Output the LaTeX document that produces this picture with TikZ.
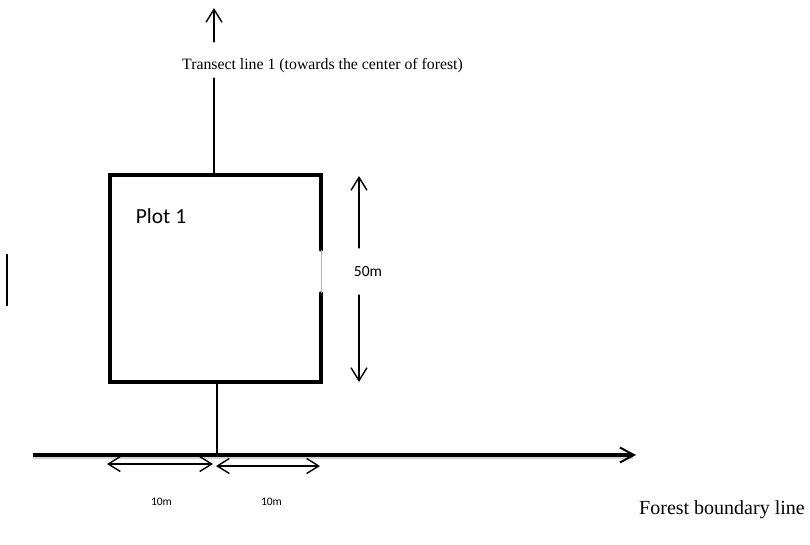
\documentclass[tikz,border=0pt]{standalone}
\usepackage{fontspec}
\setmainfont{Liberation Serif}
\newfontfamily\calibri{Carlito}
\usetikzlibrary{arrows.meta}
\begin{document}
\begin{tikzpicture}[x=1pt,y=-1pt,
  thinline/.style={line width=1.3pt, line cap=round},
  barbtip/.style={-{Straight Barb[length=13pt,width=16pt,line width=1.4pt]}},
  dbarb/.style={{Straight Barb[length=12pt,width=15pt,line width=1.4pt]}-{Straight Barb[length=12pt,width=15pt,line width=1.4pt]}},
  lbl/.style={inner sep=0pt, anchor=center}]
\useasboundingbox (0,0) rectangle (810,545);

% coordinates
\coordinate (tTop) at (214,8);
\coordinate (tA) at (214,42);
\coordinate (tB) at (214,78);
\coordinate (tC) at (214,175);
\coordinate (tD) at (217,382);
\coordinate (tE) at (217,455);

% plot rectangle with gap on right side
\draw[line width=3.3pt, line cap=round, line join=miter] (321,293) -- (321,382) -- (110,382) -- (110,175) -- (321,175) -- (321,250);
\draw[gray!60, line width=0.8pt] (321,250) -- (321,293);

% transect line
\draw[thinline, barbtip] (tA) -- (tTop);
\draw[thinline] (tB) -- (tC);
\draw[thinline] (tD) -- (tE);
\node[lbl, font=\fontsize{15.8}{18}\selectfont] (tlabel) at (322.5,65.5) {Transect line 1 (towards the center of forest)};

% plot label
\node[lbl, font=\calibri\fontsize{21.5}{24}\selectfont] (plot) at (161,216) {Plot 1};

% 50 m dimension
\coordinate (dTop) at (359,176);
\coordinate (dA) at (359,248);
\coordinate (dB) at (359,295);
\coordinate (dBot) at (359,382);
\draw[thinline, barbtip] (dA) -- (dTop);
\draw[thinline, barbtip] (dB) -- (dBot);
\node[lbl, font=\calibri\fontsize{15.5}{18}\selectfont] (fifty) at (368,272) {50m};

% forest boundary line
\coordinate (bStart) at (33,455);
\coordinate (bEnd) at (636,455);
\draw[gray!35, line width=2.5pt] (33,458) -- (633,458);
\draw[line width=3.5pt, -{Straight Barb[length=14pt,width=15pt,line width=2pt]}] (bStart) -- (bEnd);
\node[lbl, font=\fontsize{20}{22}\selectfont] (fb) at (722,510) {Forest boundary line};

% 10 m dimensions
\coordinate (lA) at (107,464);
\coordinate (lB) at (213,464);
\coordinate (rA) at (216,466);
\coordinate (rB) at (320,466);
\draw[thinline, dbarb] (lA) -- (lB);
\draw[thinline, dbarb] (rA) -- (rB);
\node[lbl, font=\calibri\fontsize{11.5}{13}\selectfont] (tenL) at (161.5,502) {10m};
\node[lbl, font=\calibri\fontsize{11.5}{13}\selectfont] (tenR) at (271.5,502) {10m};

% stray mark at left
\draw[line width=2.5pt] (7,254) -- (7,306);
\end{tikzpicture}
\end{document}
